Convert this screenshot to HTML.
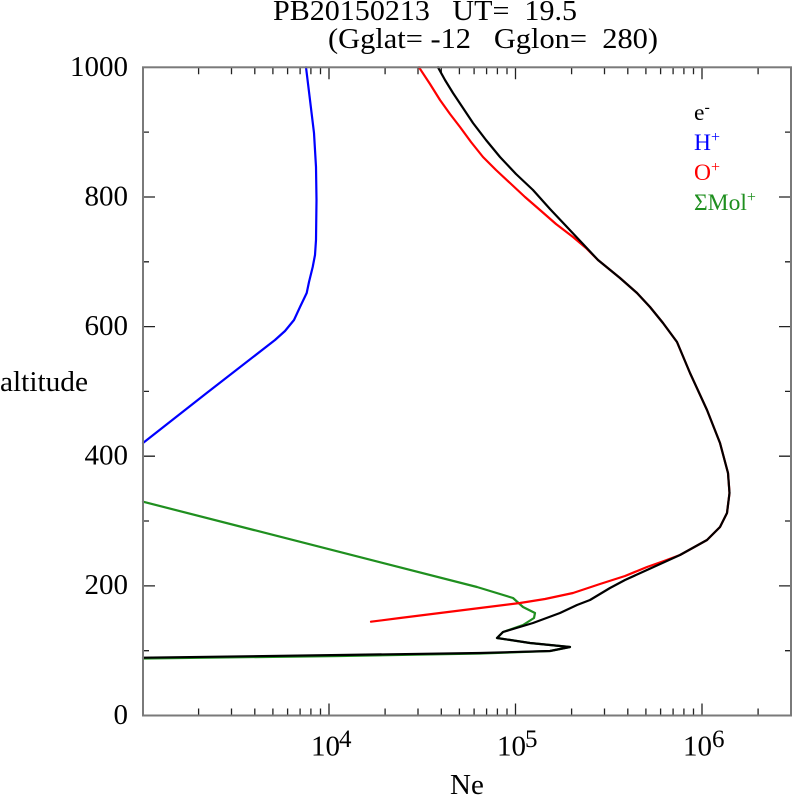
<!DOCTYPE html>
<html>
<head>
<meta charset="utf-8">
<style>
html,body{margin:0;padding:0;background:#fff;}
svg{display:block;}
text{font-family:"Liberation Serif","DejaVu Serif",serif;fill:#000;}
</style>
</head>
<body>
<svg width="792" height="796" viewBox="0 0 792 796" xmlns="http://www.w3.org/2000/svg">
<rect x="0" y="0" width="792" height="796" fill="#fff"/>

<!-- Title -->
<text x="273" y="20" font-size="28" textLength="304" lengthAdjust="spacingAndGlyphs" xml:space="preserve">PB20150213   UT=  19.5</text>
<text x="328" y="48" font-size="28" textLength="330" lengthAdjust="spacingAndGlyphs" xml:space="preserve">(Gglat= -12   Gglon=  280)</text>

<!-- ticks -->
<g stroke="#222" stroke-width="1.3" fill="none">
  <path d="M143 67.3h12 M143 197h12 M143 326.6h12 M143 456.2h12 M143 585.9h12 M143 715.5h12"/>
  <path d="M791 67.3h-12 M791 197h-12 M791 326.6h-12 M791 456.2h-12 M791 585.9h-12 M791 715.5h-12"/>
  <path d="M143 132.1h6 M143 261.8h6 M143 391.4h6 M143 521h6 M143 650.7h6"/>
  <path d="M791 132.1h-6 M791 261.8h-6 M791 391.4h-6 M791 521h-6 M791 650.7h-6"/>
  <path d="M329 715.5v-12 M515.5 715.5v-12 M702 715.5v-12"/>
  <path d="M329 67.3v12 M515.5 67.3v12 M702 67.3v12"/>
  <path d="M198.6 715.5v-7 M231.5 715.5v-7 M254.8 715.5v-7 M272.9 715.5v-7 M287.6 715.5v-7 M300.1 715.5v-7 M310.9 715.5v-7 M320.5 715.5v-7
           M385.1 715.5v-7 M418 715.5v-7 M441.3 715.5v-7 M459.4 715.5v-7 M474.1 715.5v-7 M486.6 715.5v-7 M497.4 715.5v-7 M507 715.5v-7
           M571.6 715.5v-7 M604.5 715.5v-7 M627.8 715.5v-7 M645.9 715.5v-7 M660.6 715.5v-7 M673.1 715.5v-7 M683.9 715.5v-7 M693.5 715.5v-7
           M758.1 715.5v-7"/>
  <path d="M198.6 67.3v7 M231.5 67.3v7 M254.8 67.3v7 M272.9 67.3v7 M287.6 67.3v7 M300.1 67.3v7 M310.9 67.3v7 M320.5 67.3v7
           M385.1 67.3v7 M418 67.3v7 M441.3 67.3v7 M459.4 67.3v7 M474.1 67.3v7 M486.6 67.3v7 M497.4 67.3v7 M507 67.3v7
           M571.6 67.3v7 M604.5 67.3v7 M627.8 67.3v7 M645.9 67.3v7 M660.6 67.3v7 M673.1 67.3v7 M683.9 67.3v7 M693.5 67.3v7
           M758.1 67.3v7"/>
</g>

<!-- data -->
<g fill="none" stroke-width="2.2" stroke-linejoin="round" stroke-linecap="round">
  <polyline stroke="#0000ff" points="306,67.3 310,100 314,133 316,167 316.5,200 316,240 315,255 312.7,267 309,282 306.7,293 300,307 294,320 285,331 275,340 206.7,393 143,443"/>
  <polyline stroke="#1f8f1f" points="143,501.7 477,587 513,598 523,607 535,613 534,618 523,625 503,632 497,638 530,643 570,647 550,651 480,653.5 340,656 143,658.5"/>
  <polyline stroke="#ff0000" points="419,67.3 430,84 440,100 450,114 460,127 471,142 483,157 496,170 510,183 525,197 540,210 556,224 573,237 586,248 598,260 620,278 637,293 650,307 663,323 677,342 690,373 707,410 720,443 728,473 729.5,493 727,513 720,527 707,540 680,555 664,561 647,567 625,576 600,584 573,593 545,599 520,603 480,608 440,613 400,618 371,621.7"/>
  <polyline stroke="#000000" points="438,67.3 445,80 453,93 463,108 473,123 486,140 500,157 516,174 533,190 550,209 567,227 583,244 598,260 620,278 637,293 650,307 663,323 677,342 690,373 707,410 720,443 728,473 729.5,493 727,513 720,527 707,540 680,555 647,570 625,580 610,588 590,600 577,605 560,613 533,623 503,632 497,638 530,643 570,647 550,651 480,653 340,655 143,657.7"/>
</g>

<!-- frame -->
<rect x="143" y="67.3" width="648" height="648.2" fill="none" stroke="#7a7a7a" stroke-width="2"/>

<!-- y labels -->
<g font-size="29" text-anchor="end">
  <text x="128" y="76">1000</text>
  <text x="128" y="205.5">800</text>
  <text x="128" y="335">600</text>
  <text x="128" y="464.5">400</text>
  <text x="128" y="594">200</text>
  <text x="128" y="724">0</text>
</g>
<text x="0" y="391" font-size="29" textLength="88" lengthAdjust="spacingAndGlyphs">altitude</text>

<!-- x labels -->
<g font-size="29">
  <text x="311" y="755.5">10</text><text x="339" y="747" font-size="25">4</text>
  <text x="497" y="755.5">10</text><text x="525" y="747" font-size="25">5</text>
  <text x="683" y="755.5">10</text><text x="712" y="747" font-size="25">6</text>
</g>
<text x="450" y="794" font-size="29">Ne</text>

<!-- legend -->
<g font-size="23.5">
  <text x="694" y="120" style="fill:#000">e<tspan dy="-8" font-size="16">-</tspan></text>
  <text x="694" y="150" style="fill:#0000ff">H<tspan dy="-8" font-size="16">+</tspan></text>
  <text x="694" y="180" style="fill:#ff0000">O<tspan dy="-8" font-size="16">+</tspan></text>
  <text x="694" y="210" style="fill:#1f8f1f">ΣMol<tspan dy="-8" font-size="16">+</tspan></text>
</g>
</svg>
</body>
</html>
